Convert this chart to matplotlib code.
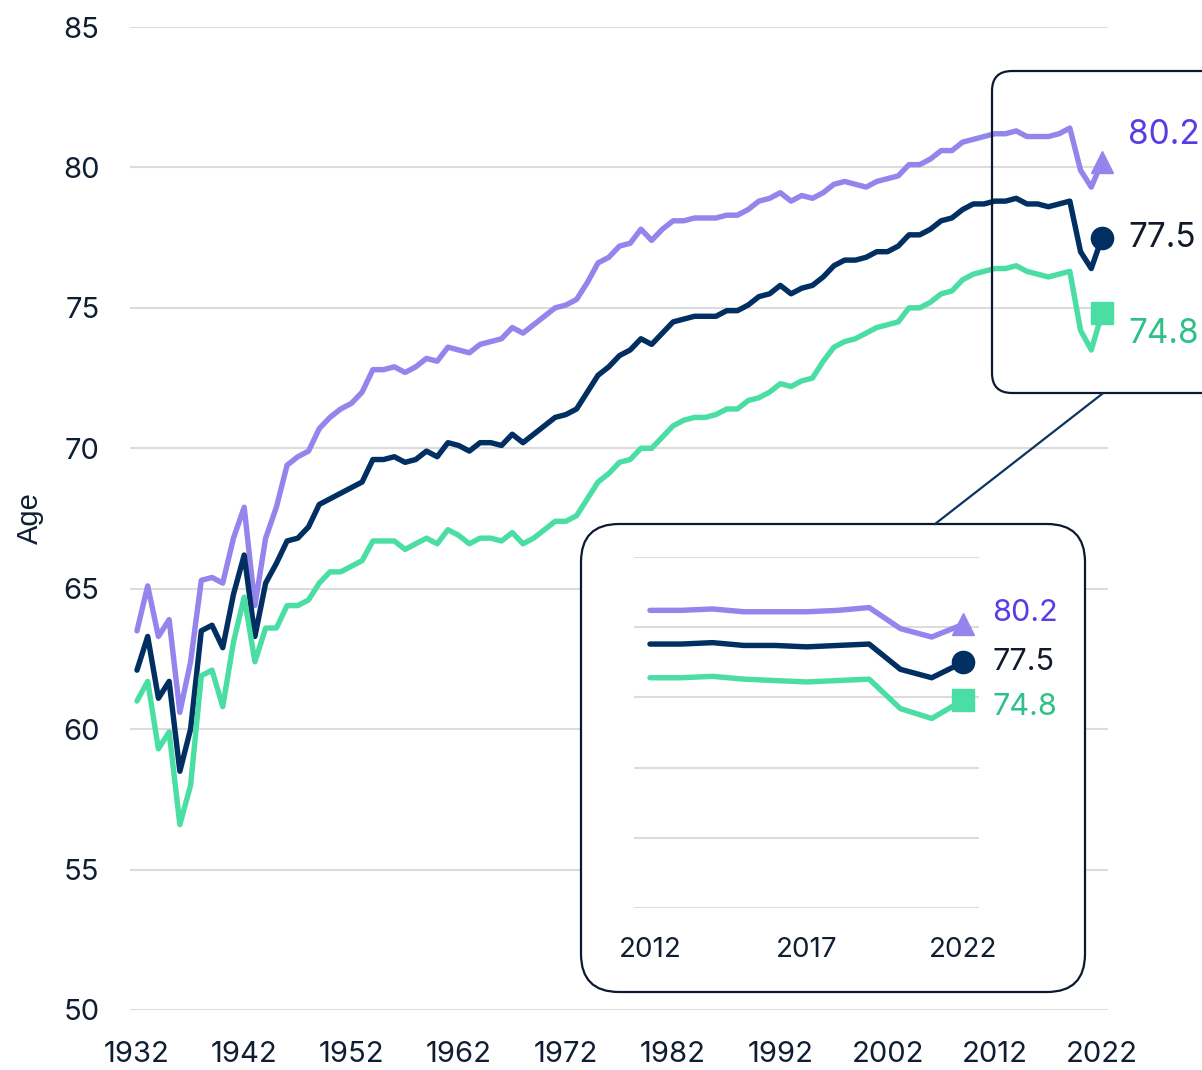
import matplotlib
matplotlib.use("Agg")
import matplotlib.pyplot as plt
from matplotlib.patches import FancyBboxPatch

# Esperança de vida nos EUA, 1932-2022
anos = list(range(1932, 2023))

mulheres = [63.5, 65.1, 63.3, 63.9, 60.6, 62.4, 65.3, 65.4, 65.2, 66.8,
            67.9, 64.4, 66.8, 67.9, 69.4, 69.7, 69.9, 70.7, 71.1, 71.4,
            71.6, 72.0, 72.8, 72.8, 72.9, 72.7, 72.9, 73.2, 73.1, 73.6,
            73.5, 73.4, 73.7, 73.8, 73.9, 74.3, 74.1, 74.4, 74.7, 75.0,
            75.1, 75.3, 75.9, 76.6, 76.8, 77.2, 77.3, 77.8, 77.4, 77.8,
            78.1, 78.1, 78.2, 78.2, 78.2, 78.3, 78.3, 78.5, 78.8, 78.9,
            79.1, 78.8, 79.0, 78.9, 79.1, 79.4, 79.5, 79.4, 79.3, 79.5,
            79.6, 79.7, 80.1, 80.1, 80.3, 80.6, 80.6, 80.9, 81.0, 81.1,
            81.2, 81.2, 81.3, 81.1, 81.1, 81.1, 81.2, 81.4, 79.9, 79.3,
            80.2]

total = [62.1, 63.3, 61.1, 61.7, 58.5, 60.0, 63.5, 63.7, 62.9, 64.8,
         66.2, 63.3, 65.2, 65.9, 66.7, 66.8, 67.2, 68.0, 68.2, 68.4,
         68.6, 68.8, 69.6, 69.6, 69.7, 69.5, 69.6, 69.9, 69.7, 70.2,
         70.1, 69.9, 70.2, 70.2, 70.1, 70.5, 70.2, 70.5, 70.8, 71.1,
         71.2, 71.4, 72.0, 72.6, 72.9, 73.3, 73.5, 73.9, 73.7, 74.1,
         74.5, 74.6, 74.7, 74.7, 74.7, 74.9, 74.9, 75.1, 75.4, 75.5,
         75.8, 75.5, 75.7, 75.8, 76.1, 76.5, 76.7, 76.7, 76.8, 77.0,
         77.0, 77.2, 77.6, 77.6, 77.8, 78.1, 78.2, 78.5, 78.7, 78.7,
         78.8, 78.8, 78.9, 78.7, 78.7, 78.6, 78.7, 78.8, 77.0, 76.4,
         77.5]

homens = [61.0, 61.7, 59.3, 59.9, 56.6, 58.0, 61.9, 62.1, 60.8, 63.1,
          64.7, 62.4, 63.6, 63.6, 64.4, 64.4, 64.6, 65.2, 65.6, 65.6,
          65.8, 66.0, 66.7, 66.7, 66.7, 66.4, 66.6, 66.8, 66.6, 67.1,
          66.9, 66.6, 66.8, 66.8, 66.7, 67.0, 66.6, 66.8, 67.1, 67.4,
          67.4, 67.6, 68.2, 68.8, 69.1, 69.5, 69.6, 70.0, 70.0, 70.4,
          70.8, 71.0, 71.1, 71.1, 71.2, 71.4, 71.4, 71.7, 71.8, 72.0,
          72.3, 72.2, 72.4, 72.5, 73.1, 73.6, 73.8, 73.9, 74.1, 74.3,
          74.4, 74.5, 75.0, 75.0, 75.2, 75.5, 75.6, 76.0, 76.2, 76.3,
          76.4, 76.4, 76.5, 76.3, 76.2, 76.1, 76.2, 76.3, 74.2, 73.5,
          74.8]

ticks_x = [1932, 1942, 1952, 1962, 1972, 1982, 1992, 2002, 2012, 2022]
ticks_y = [50, 55, 60, 65, 70, 75, 80, 85]
ticks_zoom = [2012, 2017, 2022]
inicio_zoom = 2012

# cores
cor_mulheres = "#9385ec"
cor_total = "#022f61"
cor_homens = "#4bdea4"
txt_mulheres = "#5a3ce6"
txt_total = "#111a2b"
txt_homens = "#2fc08a"
cor_texto = "#0f1e33"
cor_grade = "#dcdcdc"
cor_caixa = "#0b1a2f"

# (valores, cor da linha, cor do rótulo, marcador, desvio do rótulo principal / do zoom)
series = [
    (mulheres, cor_mulheres, txt_mulheres, "^", 19, 8),
    (total, cor_total, txt_total, "o", 0, 0),
    (homens, cor_homens, txt_homens, "s", -15, -5),
]

W, H = 1202, 1070
fig = plt.figure(figsize=(W / 100, H / 100), dpi=100)

def caixa(x0, y0, x1, y1):
    # converte pixels (origem em cima) para fração da figura
    return [x0 / W, 1 - y1 / H, (x1 - x0) / W, (y1 - y0) / H]

# Gráfico principal
ax = fig.add_axes(caixa(130, 27, 1108, 1010))
for valores, cor, cor_txt, marcador, dy, dy_zoom in series:
    ax.plot(anos, valores, color=cor, lw=3.9, solid_joinstyle="round",
            solid_capstyle="round", zorder=3)
    ax.plot(anos[-1], valores[-1], marker=marcador, ms=16, color=cor,
            clip_on=False, zorder=4)
    ax.annotate(f"{valores[-1]:.1f}", (anos[-1], valores[-1]),
                xytext=(19, dy), textcoords="offset points",
                va="center", ha="left", color=cor_txt, fontsize=24,
                family="Inter", annotation_clip=False)

ax.set_xlim(1931.35, 2022.56)
ax.set_ylim(50, 85)
ax.set_xticks(ticks_x)
ax.set_yticks(ticks_y)
ax.grid(axis="y", color=cor_grade, lw=1.5)
ax.set_axisbelow(True)
for s in ax.spines.values():
    s.set_visible(False)
ax.tick_params(length=0, labelsize=21, labelcolor=cor_texto)
ax.tick_params(axis="y", pad=22)
ax.tick_params(axis="x", pad=22)
for lab in ax.get_xticklabels() + ax.get_yticklabels():
    lab.set_family("Inter")
ax.set_ylabel("Age", fontsize=21, color=cor_texto, family="Liberation Sans")
ax.yaxis.set_label_coords((44 - 130) / 978, 0.5)

# Camada com as caixas e a linha de ligação (em pixels)
camada = fig.add_axes([0, 0, 1, 1])
camada.set_xlim(0, W)
camada.set_ylim(H, 0)
camada.axis("off")
camada.patch.set_alpha(0)

camada.add_patch(FancyBboxPatch((992, 71), 230, 322,
                                boxstyle="round,pad=0,rounding_size=20",
                                fc="none", ec=cor_caixa, lw=1.6))
camada.add_patch(FancyBboxPatch((581, 524), 504, 468,
                                boxstyle="round,pad=0,rounding_size=38",
                                fc="white", ec=cor_caixa, lw=1.6))
camada.plot([1102, 935], [394, 524], color="#0b3560", lw=1.6)

# Gráfico ampliado 2012-2022
ins = fig.add_axes(caixa(634, 557, 979, 908))
ins.patch.set_alpha(0)
i0 = anos.index(inicio_zoom)
for valores, cor, cor_txt, marcador, dy, dy_zoom in series:
    ins.plot(anos[i0:], valores[i0:], color=cor, lw=3.9,
             solid_joinstyle="round", solid_capstyle="round", zorder=3)
    ins.plot(anos[-1], valores[-1], marker=marcador, ms=16, color=cor,
             clip_on=False, zorder=4)
    ins.annotate(f"{valores[-1]:.1f}", (anos[-1], valores[-1]),
                 xytext=(21, dy_zoom), textcoords="offset points",
                 va="center", ha="left", color=cor_txt, fontsize=22,
                 family="Inter", annotation_clip=False)

ins.set_xlim(2011.49, 2022.51)
ins.set_ylim(60, 85)
ins.set_xticks(ticks_zoom)
ins.set_yticks(ticks_y[2:])
ins.set_yticklabels([])
ins.grid(axis="y", color=cor_grade, lw=1.5)
ins.set_axisbelow(True)
for s in ins.spines.values():
    s.set_visible(False)
ins.tick_params(length=0, labelsize=20, labelcolor=cor_texto)
ins.tick_params(axis="x", pad=21)
for lab in ins.get_xticklabels():
    lab.set_family("Inter")

fig.savefig("out.png", dpi=100)
